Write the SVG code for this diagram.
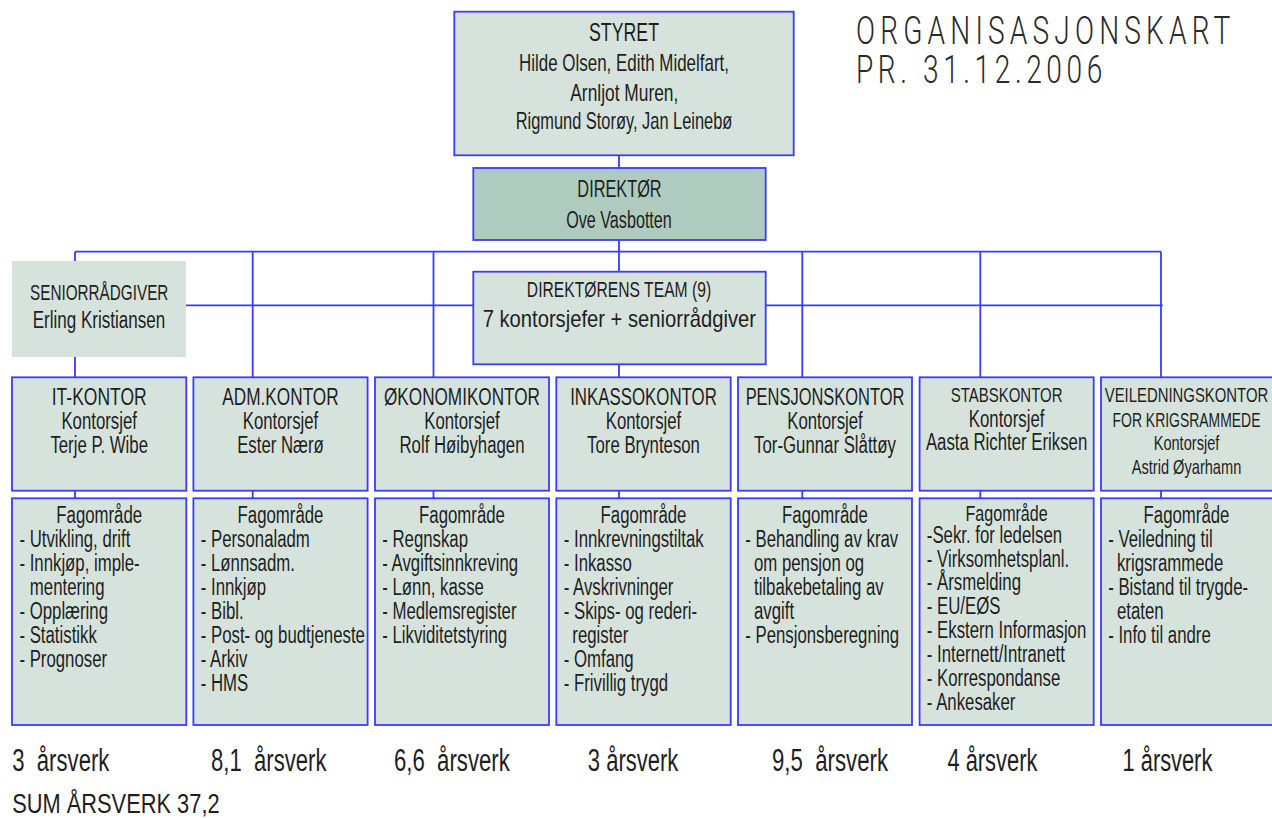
<svg xmlns="http://www.w3.org/2000/svg" width="1272" height="818" viewBox="0 0 1272 818">
<style>
text{font-family:"Liberation Sans",Arial,sans-serif;fill:#1e1e1e}
.box{fill:#d6e3dd;stroke:#3b3bff;stroke-width:1.8}
.dir{fill:#afcbc0;stroke:#3b3bff;stroke-width:1.8}
.plain{fill:#d6e3dd}
.ln{stroke:#3b3bff;stroke-width:1.8;fill:none}
.c{text-anchor:middle;font-size:23px}
.h1{text-anchor:middle;font-size:24px}
.h2{text-anchor:middle;font-size:21px}
.h3{text-anchor:middle;font-size:20px}
.l{font-size:23px}
.bot{font-size:31px}
.title{font-family:Roboto,"Liberation Sans",sans-serif;font-weight:300;font-size:39px;fill:#2a2a2a}
</style>

<g id="connectors">
<path class="ln" d="M619 155.3V168M619 240V271.7M619 364.3V377.3"/>
<path class="ln" d="M75 251.7H1161"/>
<path class="ln" d="M75 251.7V377.3M252.7 251.7V377.3M433.5 251.7V377.3M802.3 251.7V377.3M980.3 251.7V377.3M1161 251.7V377.3"/>
<path class="ln" d="M186 305.3H1162.7"/>
<path class="ln" d="M75 490.7V498.3M252.7 490.7V498.3M433.5 490.7V498.3M619 490.7V498.3M802.3 490.7V498.3M980.3 490.7V498.3M1161 490.7V498.3"/>
</g>

<g id="title">
<text class="title" transform="translate(856 0) scale(0.72 1)"><tspan x="0" y="44" textLength="520" lengthAdjust="spacing">ORGANISASJONSKART</tspan><tspan x="0" y="83.3" textLength="342" lengthAdjust="spacing">PR. 31.12.2006</tspan></text>
</g>

<g id="styret">
<rect class="box" x="454.3" y="11.7" width="339.4" height="143.6"/>
<text class="c" x="624" y="40.7" style="font-size:26px" textLength="70" lengthAdjust="spacingAndGlyphs">STYRET</text>
<text class="c" x="624" y="70.7" style="font-size:24px" textLength="210" lengthAdjust="spacingAndGlyphs">Hilde Olsen, Edith Midelfart,</text>
<text class="c" x="624.3" y="100.7" style="font-size:24px" textLength="108" lengthAdjust="spacingAndGlyphs">Arnljot Muren,</text>
<text class="c" x="624" y="129.3" style="font-size:24px" textLength="216.7" lengthAdjust="spacingAndGlyphs">Rigmund Storøy, Jan Leinebø</text>
</g>

<g id="direktor">
<rect class="dir" x="473.3" y="168" width="292.4" height="72"/>
<text class="c" x="619.5" y="197.3" textLength="84.3" lengthAdjust="spacingAndGlyphs">DIREKTØR</text>
<text class="c" x="619" y="227.7" textLength="105.7" lengthAdjust="spacingAndGlyphs">Ove Vasbotten</text>
</g>

<g id="team">
<rect class="box" x="473.3" y="271.7" width="292.4" height="92.6"/>
<text class="c" x="619" y="296.7" style="font-size:22px" textLength="184.3" lengthAdjust="spacingAndGlyphs">DIREKTØRENS TEAM (9)</text>
<text class="c" x="619.3" y="326.7" style="font-size:24px" textLength="273.3" lengthAdjust="spacingAndGlyphs">7 kontorsjefer + seniorrådgiver</text>
</g>

<g id="seniorradgiver">
<rect class="plain" x="12" y="261" width="174" height="96"/>
<text class="c" x="99.2" y="300" style="font-size:22px" textLength="138.3" lengthAdjust="spacingAndGlyphs">SENIORRÅDGIVER</text>
<text class="c" x="99" y="328.3" textLength="132.6" lengthAdjust="spacingAndGlyphs">Erling Kristiansen</text>
</g>

<g id="it-kontor">
<rect class="box" x="12" y="377.3" width="174.3" height="113.4"/>
<rect class="box" x="12" y="498.3" width="174.3" height="226.7"/>
<g transform="translate(99.2 0) scale(0.73 1)">
<text class="h1" y="404.7" textLength="130.1" lengthAdjust="spacingAndGlyphs">IT-KONTOR</text>
<text class="c" y="429.3">Kontorsjef</text>
<text class="c" y="452.7">Terje P. Wibe</text>
<text class="c" y="522.7">Fagområde</text>
<text class="l" x="-109.3" y="547.3">- Utvikling, drift</text>
<text class="l" x="-109.3" y="571.3">- Innkjøp, imple-</text>
<text class="l" x="-95" y="595.3">mentering</text>
<text class="l" x="-109.3" y="619.3">- Opplæring</text>
<text class="l" x="-109.3" y="643.3">- Statistikk</text>
<text class="l" x="-109.3" y="667.3">- Prognoser</text>
</g>
</g>

<g id="adm-kontor">
<rect class="box" x="193.4" y="377.3" width="174.2" height="113.4"/>
<rect class="box" x="193.4" y="498.3" width="174.2" height="226.7"/>
<g transform="translate(280.5 0) scale(0.73 1)">
<text class="h1" y="404.7" textLength="159.3" lengthAdjust="spacingAndGlyphs">ADM.KONTOR</text>
<text class="c" y="429.3">Kontorsjef</text>
<text class="c" y="452.7">Ester Nærø</text>
<text class="c" y="522.7">Fagområde</text>
<text class="l" x="-109.3" y="547.3">- Personaladm</text>
<text class="l" x="-109.3" y="571.3">- Lønnsadm.</text>
<text class="l" x="-109.3" y="595.3">- Innkjøp</text>
<text class="l" x="-109.3" y="619.3">- Bibl.</text>
<text class="l" x="-109.3" y="643.3">- Post- og budtjeneste</text>
<text class="l" x="-109.3" y="667.3">- Arkiv</text>
<text class="l" x="-109.3" y="691.3">- HMS</text>
</g>
</g>

<g id="okonomikontor">
<rect class="box" x="375" y="377.3" width="174" height="113.4"/>
<rect class="box" x="375" y="498.3" width="174" height="226.7"/>
<g transform="translate(462 0) scale(0.73 1)">
<text class="h1" y="404.7" textLength="213.7" lengthAdjust="spacingAndGlyphs">ØKONOMIKONTOR</text>
<text class="c" y="429.3">Kontorsjef</text>
<text class="c" y="452.7">Rolf Høibyhagen</text>
<text class="c" y="522.7">Fagområde</text>
<text class="l" x="-109.3" y="547.3">- Regnskap</text>
<text class="l" x="-109.3" y="571.3">- Avgiftsinnkreving</text>
<text class="l" x="-109.3" y="595.3">- Lønn, kasse</text>
<text class="l" x="-109.3" y="619.3">- Medlemsregister</text>
<text class="l" x="-109.3" y="643.3">- Likviditetstyring</text>
</g>
</g>

<g id="inkassokontor">
<rect class="box" x="556.3" y="377.3" width="174.4" height="113.4"/>
<rect class="box" x="556.3" y="498.3" width="174.4" height="226.7"/>
<g transform="translate(643.5 0) scale(0.73 1)">
<text class="h1" y="404.7" textLength="201" lengthAdjust="spacingAndGlyphs">INKASSOKONTOR</text>
<text class="c" y="429.3">Kontorsjef</text>
<text class="c" y="452.7">Tore Brynteson</text>
<text class="c" y="522.7">Fagområde</text>
<text class="l" x="-109.3" y="547.3">- Innkrevningstiltak</text>
<text class="l" x="-109.3" y="571.3">- Inkasso</text>
<text class="l" x="-109.3" y="595.3">- Avskrivninger</text>
<text class="l" x="-109.3" y="619.3">- Skips- og rederi-</text>
<text class="l" x="-97.5" y="643.3">register</text>
<text class="l" x="-109.3" y="667.3">- Omfang</text>
<text class="l" x="-109.3" y="691.3">- Frivillig trygd</text>
</g>
</g>

<g id="pensjonskontor">
<rect class="box" x="738" y="377.3" width="174" height="113.4"/>
<rect class="box" x="738" y="498.3" width="174" height="226.7"/>
<g transform="translate(825 0) scale(0.73 1)">
<text class="h1" y="404.7" textLength="217.4" lengthAdjust="spacingAndGlyphs">PENSJONSKONTOR</text>
<text class="c" y="429.3">Kontorsjef</text>
<text class="c" y="452.7">Tor-Gunnar Slåttøy</text>
<text class="c" y="522.7">Fagområde</text>
<text class="l" x="-109.3" y="547.3">- Behandling av krav</text>
<text class="l" x="-97.3" y="571.3">om pensjon og</text>
<text class="l" x="-97.3" y="595.3">tilbakebetaling av</text>
<text class="l" x="-97.3" y="619.3">avgift</text>
<text class="l" x="-109.3" y="643.3">- Pensjonsberegning</text>
</g>
</g>

<g id="stabskontor">
<rect class="box" x="919.6" y="377.3" width="174.1" height="113.4"/>
<rect class="box" x="919.6" y="498.3" width="174.1" height="226.7"/>
<g transform="translate(1006.6 0) scale(0.73 1)">
<text class="h2" y="402.3" textLength="153" lengthAdjust="spacingAndGlyphs">STABSKONTOR</text>
<text class="c" y="426.7">Kontorsjef</text>
<text class="c" y="450">Aasta Richter Eriksen</text>
<text class="c" y="521.5" style="font-size:22px">Fagområde</text>
<text class="l" x="-109.3" y="543">-Sekr. for ledelsen</text>
<text class="l" x="-109.3" y="566.7">- Virksomhetsplanl.</text>
<text class="l" x="-109.3" y="590.3">- Årsmelding</text>
<text class="l" x="-109.3" y="614.3">- EU/EØS</text>
<text class="l" x="-109.3" y="638.3">- Ekstern Informasjon</text>
<text class="l" x="-109.3" y="662.3">- Internett/Intranett</text>
<text class="l" x="-109.3" y="686.2">- Korrespondanse</text>
<text class="l" x="-109.3" y="710">- Ankesaker</text>
</g>
</g>

<g id="veiledningskontor">
<rect class="box" x="1101" y="377.3" width="174" height="113.4"/>
<rect class="box" x="1101" y="498.3" width="174" height="226.7"/>
<g transform="translate(1186.5 0) scale(0.73 1)">
<text class="h2" y="402.3" textLength="224" lengthAdjust="spacingAndGlyphs">VEILEDNINGSKONTOR</text>
<text class="h2" y="426.7" textLength="202.7" lengthAdjust="spacingAndGlyphs">FOR KRIGSRAMMEDE</text>
<text class="h3" y="450">Kontorsjef</text>
<text class="h3" y="474.3">Astrid Øyarhamn</text>
<text class="c" y="522.7">Fagområde</text>
<text class="l" x="-107.3" y="547.3">- Veiledning til</text>
<text class="l" x="-95.3" y="571.3">krigsrammede</text>
<text class="l" x="-107.3" y="595.3">- Bistand til trygde-</text>
<text class="l" x="-95.3" y="619.3">etaten</text>
<text class="l" x="-107.3" y="643.3">- Info til andre</text>
</g>
</g>

<g id="arsverk">
<text class="bot" x="12.2" y="771" textLength="97.2" lengthAdjust="spacingAndGlyphs">3&#160; årsverk</text>
<text class="bot" x="211" y="771" textLength="115.5" lengthAdjust="spacingAndGlyphs">8,1&#160; årsverk</text>
<text class="bot" x="393.9" y="771" textLength="115.9" lengthAdjust="spacingAndGlyphs">6,6&#160; årsverk</text>
<text class="bot" x="587.8" y="771" textLength="90.5" lengthAdjust="spacingAndGlyphs">3 årsverk</text>
<text class="bot" x="772" y="771" textLength="116" lengthAdjust="spacingAndGlyphs">9,5&#160; årsverk</text>
<text class="bot" x="947.4" y="771" textLength="90" lengthAdjust="spacingAndGlyphs">4 årsverk</text>
<text class="bot" x="1122.6" y="771" textLength="89.7" lengthAdjust="spacingAndGlyphs">1 årsverk</text>
<text class="bot" x="12.2" y="812.7" style="font-size:28px" textLength="207.4" lengthAdjust="spacingAndGlyphs">SUM ÅRSVERK 37,2</text>
</g>
</svg>
